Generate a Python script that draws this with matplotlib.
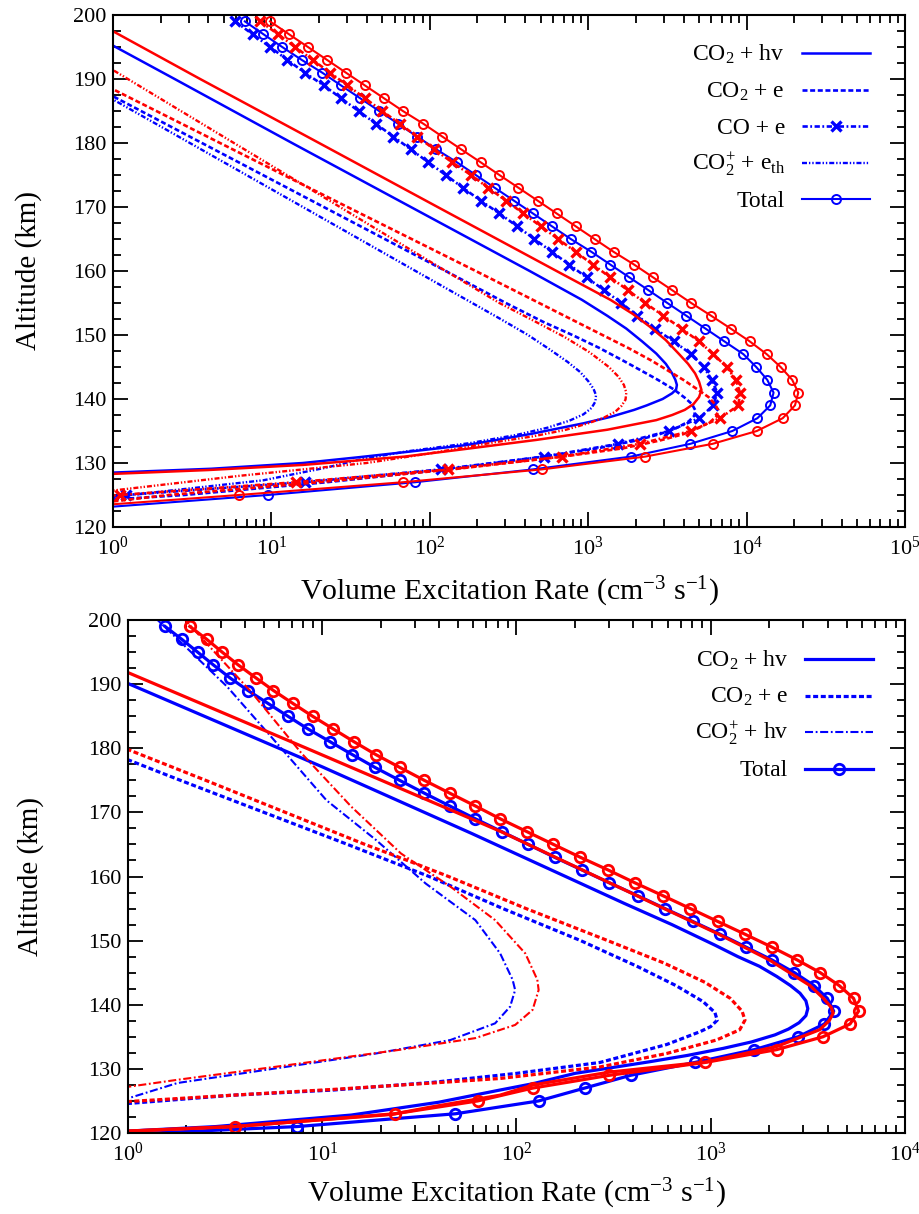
import matplotlib
matplotlib.use("Agg")
import matplotlib.pyplot as plt
from matplotlib.ticker import LogLocator, MultipleLocator, LogFormatterSciNotation, NullFormatter
from matplotlib.transforms import ScaledTranslation

plt.rcParams['font.family'] = ['Liberation Serif', 'DejaVu Serif']
plt.rcParams['mathtext.fontset'] = 'custom'
plt.rcParams['mathtext.rm'] = 'Liberation Serif'
plt.rcParams['mathtext.it'] = 'Liberation Serif:italic'
plt.rcParams['mathtext.bf'] = 'Liberation Serif:bold'
plt.rcParams['lines.scale_dashes'] = False

BLUE = '#0000ff'
RED = '#ff0000'

# ---------------------------------------------------------------- upper panel
# altitudes (km) of the tabulated totals and CO + e rates
top_alt_grid = [199, 197, 195, 193, 191, 189, 187, 185, 183, 181, 179, 177, 175,
                173, 171, 169, 167, 165, 163, 161, 159, 157, 155, 153, 151, 149,
                147, 145, 143, 141, 139, 137, 135, 133, 131, 129, 127, 125, 123]
top_total_blue = [6.8, 8.9, 11.7, 15.5, 20.9, 27.5, 36.3, 47.9, 63.1, 83.2, 110, 148,
                  195, 257, 339, 447, 589, 776, 1047, 1380, 1820, 2400, 3160, 4170,
                  5500, 7240, 9550, 11500, 13500, 14800, 14100, 11700, 8130, 4420,
                  1860, 447, 81, 9.5, 0.8]
top_total_red = [9.8, 12.9, 17.0, 22.4, 29.5, 38.9, 51.3, 67.6, 91.2, 120, 158, 209,
                 275, 363, 479, 631, 832, 1096, 1445, 1950, 2570, 3390, 4470, 5980,
                 7940, 10470, 13400, 16400, 19400, 21200, 20200, 16900, 11600, 6110,
                 2290, 508, 68, 6.2, 0.5]
top_coe_blue = [5.9, 7.6, 9.8, 12.6, 16.2, 21.4, 27.5, 35.5, 45.7, 58.9, 75.9, 97.7,
                126, 162, 209, 275, 355, 457, 589, 759, 977, 1260, 1620, 2040, 2630,
                3470, 4470, 5370, 6030, 6530, 6170, 5010, 3240, 1550, 525, 117, 16.2,
                1.2, 0.1]
top_coe_red = [8.5, 11.0, 14.1, 18.2, 23.4, 30.2, 38.9, 50.1, 64.6, 83.2, 107, 138,
               182, 234, 302, 389, 501, 646, 832, 1070, 1380, 1780, 2290, 2980, 3890,
               5010, 6170, 7480, 8570, 9080, 8870, 6790, 4440, 2120, 681, 131, 14.3,
               1.1, 0.06]

# CO2 + hv
top_hv_blue_alt = [200, 190, 180, 170, 160, 155.5, 153, 151, 149, 147.1, 145.5, 144,
                   143, 142.2, 141.5, 140.9, 140, 139, 138.3, 137.2, 136.2, 134.6,
                   133.5, 132.8, 131.8, 130.9, 130, 129.1, 128.5, 128]
top_hv_blue = [0.44, 2.45, 13.5, 75.9, 427, 912, 1320, 1740, 2190, 2690, 3090, 3390,
               3550, 3630, 3590, 3390, 2950, 2340, 1950, 1380, 933, 447, 251, 170, 75.9,
               35.5, 15.8, 4.17, 1.0, 0.32]
top_hv_red_alt = [200, 190, 180, 170, 160, 155.5, 153.3, 151.3, 149.2, 147.1, 145.5, 144,
                  142.7, 141.4, 140.3, 139.2, 138.3, 137.5, 136.7, 135.2, 133.6, 132.3,
                  131.0, 129.7, 128.9, 128.3, 127.8]
top_hv_red = [0.65, 3.55, 20.0, 112, 631, 1380, 1910, 2450, 3090, 3720, 4270, 4730,
              5010, 5190, 5010, 4620, 4070, 3390, 2690, 1320, 468, 182, 69.2, 15.8,
              3.98, 1.0, 0.32]

# CO2 + e
top_e_blue_alt = [200, 187.3, 170, 160, 155, 152, 150, 148, 146, 144.5, 143, 141.5,
                  140.2, 139.2, 138.3, 137.4, 136.5, 135.5, 134.5, 133.5, 132.3, 131,
                  129, 127, 125, 124.3, 123.8]
top_e_blue = [0.107, 1.0, 21.4, 126, 302, 525, 794, 1170, 1660, 2140, 2750, 3470, 4070,
              4520, 4730, 4680, 4310, 3630, 2820, 2000, 1150, 525, 126, 22.4, 2.82, 1.0,
              0.4]
top_e_red_alt = [200, 188.4, 170, 160, 155.5, 152.5, 150, 148, 146, 144.5, 143, 141.5,
                 140.3, 139.2, 138.3, 137.3, 136.4, 135.5, 134.5, 133.5, 132.3, 131,
                 129, 127, 125, 124.0, 123.5]
top_e_red = [0.117, 1.0, 30.2, 195, 447, 776, 1230, 1780, 2510, 3160, 3980, 4900, 5750,
             6310, 6610, 6460, 5890, 5010, 3980, 2820, 1660, 692, 138, 20.0, 2.24, 1.0,
             0.5]

# CO2+ + e_th
top_th_blue_alt = [200, 186.8, 170, 160, 152.6, 150, 147.7, 145.8, 144.2, 142.8, 141.6,
                   140.6, 139.6, 138.6, 137.6, 136.6, 135.5, 134.4, 133.1, 131.8, 130.5,
                   129.3, 127.3, 124.7, 124]
top_th_blue = [0.115, 1.0, 15.8, 81.3, 275, 417, 575, 741, 891, 1000, 1080, 1120, 1110,
               1050, 933, 759, 550, 355, 178, 70.8, 35.5, 22.4, 8.9, 1.0, 0.5]
top_th_red_alt = [200, 191.4, 173.5, 160, 155, 152.3, 149.7, 147.3, 145, 143.5, 142.2,
                  141, 139.9, 138.9, 138, 137.1, 136.2, 135.2, 134.2, 133.2, 131.5, 130,
                  128, 125.7, 125]
top_th_red = [0.26, 1.0, 15.8, 126, 275, 447, 708, 1020, 1350, 1550, 1680, 1740, 1720,
              1620, 1480, 1260, 1000, 724, 457, 251, 100, 39.8, 6.3, 1.0, 0.5]

# ---------------------------------------------------------------- lower panel
bot_alt_grid = [199, 197, 195, 193, 191, 189, 187, 185, 183, 181, 179, 177, 175, 173,
                171, 169, 167, 165, 163, 161, 159, 157, 155, 153, 151, 149, 147, 145,
                143, 141, 139, 137, 135, 133, 131, 129, 127, 125, 123, 121, 119]
bot_total_blue = [1.55, 1.89, 2.28, 2.75, 3.34, 4.15, 5.25, 6.65, 8.45, 11.0, 14.3,
                  18.7, 25.0, 33.5, 45.3, 61.4, 83.9, 115, 157, 218, 301, 421, 581, 807,
                  1117, 1517, 2061, 2698, 3396, 3981, 4295, 3846, 2812, 1675, 828, 387,
                  224, 130, 48.5, 7.4, 0.25]
bot_total_red = [2.08, 2.54, 3.05, 3.69, 4.54, 5.61, 7.05, 8.91, 11.4, 14.6, 18.9, 25.1,
                 33.5, 45.3, 61.4, 82.4, 113, 155, 213, 297, 408, 568, 785, 1084, 1500,
                 2061, 2780, 3664, 4581, 5433, 5768, 5212, 3776, 2183, 935, 301, 121,
                 63.1, 23.6, 3.54, 0.1]

# CO2 + hv
bot_hv_blue_alt = [200, 190.1, 177.1, 166.7, 155.8, 152.5, 149.3, 147.5, 146, 144.4, 143,
                   141.8, 140.6, 139.4, 138.3, 137.2, 136.2, 135.3, 134.2, 133.2, 132.1,
                   131.1, 129.3, 127.7, 126.7, 124.8, 122.8, 121, 120.3, 119.5]
bot_hv_blue = [0.18, 1.0, 10.0, 58.9, 359, 631, 1050, 1380, 1780, 2190, 2570, 2880,
               3090, 3160, 3090, 2850, 2510, 2140, 1620, 1160, 759, 482, 200, 122, 82.2,
               39.8, 14.1, 2.82, 1.0, 0.2]
bot_hv_red_alt = [200, 191.8, 180, 170, 167, 161, 155, 151, 147, 143, 141, 139.6, 138.7,
                  137.5, 136.1, 133.5, 131.1, 129.5, 127.5, 125.9, 124, 122.9, 121,
                  120.3, 119.5]
bot_hv_red = [0.23, 1.0, 8.3, 49.0, 83.2, 219, 575, 1100, 2000, 3240, 3800, 4170, 4270,
              4070, 3630, 2190, 955, 302, 122, 82.2, 35.5, 22.9, 3.47, 1.0, 0.25]

# CO2 + e
bot_e_blue_alt = [200, 182, 178.2, 175, 170, 165, 160, 155, 150, 146, 143, 140.5, 138.8,
                  137.6, 136.6, 135.8, 133.8, 131.0, 129.3, 127.9, 126.7, 125.9, 124.6,
                  124]
bot_e_blue = [0.0135, 0.48, 1.0, 1.86, 5.01, 13.5, 35.5, 85.1, 214, 417, 661, 912, 1050,
              1080, 1000, 881, 593, 269, 100, 37.2, 11.4, 3.47, 1.0, 0.5]
bot_e_red_alt = [200, 183, 179.8, 175, 170, 165, 162.6, 160, 155, 150, 146.5, 143.5, 141,
                 139, 137.6, 136.1, 134.5, 132.4, 130.3, 128.5, 127.8, 126.8, 125.9,
                 124.9, 124.3]
bot_e_red = [0.022, 0.55, 1.0, 2.51, 6.46, 16.6, 26.9, 44.7, 112, 295, 575, 933, 1260,
             1450, 1500, 1410, 1070, 593, 269, 82.2, 37.2, 11.4, 3.47, 1.0, 0.5]

# CO2+ + hv
bot_ion_blue_alt = [202, 200, 189.6, 180.8, 171.9, 165.7, 158.9, 153.2, 148.0, 143.9,
                    142.3, 139.7, 137.1, 134.5, 132.4, 130.1, 127.8, 125.4, 124.5]
bot_ion_blue = [1.2, 1.42, 3.24, 5.83, 10.5, 18.9, 34.1, 61.4, 82.4, 95.5, 98.4, 92.7,
                77.6, 45.7, 18.9, 5.83, 1.80, 1.0, 0.71]
bot_ion_red_alt = [202, 200, 188.6, 179.2, 170.9, 163.6, 158.4, 153.2, 148.0, 143.9,
                   142.3, 139.2, 136.85, 134.8, 133.0, 130.35, 128.3, 127.2, 126.5]
bot_ion_red = [1.70, 1.97, 4.36, 7.83, 14.1, 25.4, 45.8, 77.6, 111, 128, 130, 121, 98.4,
               61.4, 25.4, 5.83, 1.80, 1.0, 0.71]

# ---------------------------------------------------------------- styles
DASH = (0, (3.6, 1.9))
DASHDOT = (0, (3.8, 1.8, 1.3, 1.8))
DASHDOTDOT = (0, (3.6, 1.4, 1.0, 1.4, 1.0, 1.4))
DASHDOT_LONG = (0, (5.8, 1.9, 1.3, 1.9))

top_styles = {
    'hv': dict(ls='-', lw=1.8),
    'e': dict(ls=DASH, lw=1.9),
    'coe': dict(ls=DASHDOT, lw=1.9, marker='x', ms=6.5, mew=2.4),
    'th': dict(ls=DASHDOTDOT, lw=1.7),
    'tot': dict(ls='-', lw=1.5, marker='o', ms=6.5, mew=1.4, mfc='none'),
}
bot_styles = {
    'hv': dict(ls='-', lw=2.3),
    'e': dict(ls=DASH, lw=2.3),
    'ion': dict(ls=DASHDOT_LONG, lw=1.5),
    'tot': dict(ls='-', lw=2.3, marker='o', ms=7.5, mew=2.0, mfc='none'),
}

fig = plt.figure(figsize=(9.2, 12.14), dpi=100)
ax1 = fig.add_axes([113 / 920, 1 - 527 / 1214, 792 / 920, 512 / 1214])
ax2 = fig.add_axes([128 / 920, 1 - 1133 / 1214, 777 / 920, 513 / 1214])


def style_axes(ax, xmax, xpad):
    ax.set_xscale('log')
    ax.set_xlim(1, xmax)
    ax.set_ylim(120, 200)
    ax.xaxis.set_major_locator(LogLocator(base=10, numticks=10))
    ax.xaxis.set_minor_locator(LogLocator(base=10, subs=range(2, 10), numticks=20))
    ax.xaxis.set_major_formatter(LogFormatterSciNotation())
    ax.xaxis.set_minor_formatter(NullFormatter())
    ax.yaxis.set_major_locator(MultipleLocator(10))
    ax.yaxis.set_minor_locator(MultipleLocator(2.5))
    ax.tick_params(which='both', direction='in', top=True, right=True, width=1.3,
                   labelsize=16)
    ax.tick_params(which='major', length=11)
    ax.tick_params(which='minor', length=5.5)
    ax.tick_params(axis='x', pad=7)
    ax.tick_params(axis='y', pad=5)
    for sp in ax.spines.values():
        sp.set_linewidth(1.5)
    ax.set_xlabel('Volume Excitation Rate (cm$^{-3}$ s$^{-1}$)', fontsize=21.5,
                  labelpad=xpad)
    ax.set_ylabel('Altitude (km)', fontsize=21)


def draw_key(ax, entries, x_text, x0, x1, ys):
    off = ScaledTranslation(0, -7.5 / 100, fig.dpi_scale_trans)
    for (label, st), y in zip(entries, ys):
        kw = dict(st)
        if 'marker' in kw:
            kw['markevery'] = [1]
        ax.plot([x0, (x0 + x1) / 2, x1], [y, y, y], color=BLUE, transform=ax.transAxes,
                clip_on=False, **kw)
        ax.text(x_text, y, label, transform=ax.transAxes + off, ha='right',
                va='baseline', fontsize=17)


# upper panel: blue set first, red set drawn over it
for color, hv_a, hv, e_a, e, th_a, th, coe, tot in [
        (BLUE, top_hv_blue_alt, top_hv_blue, top_e_blue_alt, top_e_blue,
         top_th_blue_alt, top_th_blue, top_coe_blue, top_total_blue),
        (RED, top_hv_red_alt, top_hv_red, top_e_red_alt, top_e_red,
         top_th_red_alt, top_th_red, top_coe_red, top_total_red)]:
    ax1.plot(hv, hv_a, color=color, **top_styles['hv'])
    ax1.plot(e, e_a, color=color, **top_styles['e'])
    ax1.plot(th, th_a, color=color, **top_styles['th'])
    ax1.plot(coe, top_alt_grid, color=color, **top_styles['coe'])
    ax1.plot(tot, top_alt_grid, color=color, **top_styles['tot'])

style_axes(ax1, 1e5, 11)
draw_key(ax1,
         [('CO$_2$ + hv', top_styles['hv']),
          ('CO$_2$ + e', top_styles['e']),
          ('CO + e', top_styles['coe']),
          ('CO$_2^{+}$ + e$_{\\rm th}$', top_styles['th']),
          ('Total', top_styles['tot'])],
         0.8485, 0.870, 0.956, [0.925, 0.8535, 0.783, 0.7115, 0.640])

# lower panel
for color, hv_a, hv, e_a, e, ion_a, ion, tot in [
        (BLUE, bot_hv_blue_alt, bot_hv_blue, bot_e_blue_alt, bot_e_blue,
         bot_ion_blue_alt, bot_ion_blue, bot_total_blue),
        (RED, bot_hv_red_alt, bot_hv_red, bot_e_red_alt, bot_e_red,
         bot_ion_red_alt, bot_ion_red, bot_total_red)]:
    ax2.plot(hv, hv_a, color=color, **bot_styles['hv'])
    ax2.plot(e, e_a, color=color, **bot_styles['e'])
    ax2.plot(ion, ion_a, color=color, **bot_styles['ion'])
    ax2.plot(tot, bot_alt_grid, color=color, **bot_styles['tot'])

style_axes(ax2, 1e4, 8)
draw_key(ax2,
         [('CO$_2$ + hv', bot_styles['hv']),
          ('CO$_2$ + e', bot_styles['e']),
          ('CO$_2^{+}$ + hv', bot_styles['ion']),
          ('Total', bot_styles['tot'])],
         0.8498, 0.8713, 0.9584, [0.9234, 0.8525, 0.781, 0.7096])

ax1.yaxis.set_label_coords(-0.09, 0.5)
ax2.yaxis.set_label_coords(-0.108, 0.5)

fig.savefig('out.png', dpi=100)
